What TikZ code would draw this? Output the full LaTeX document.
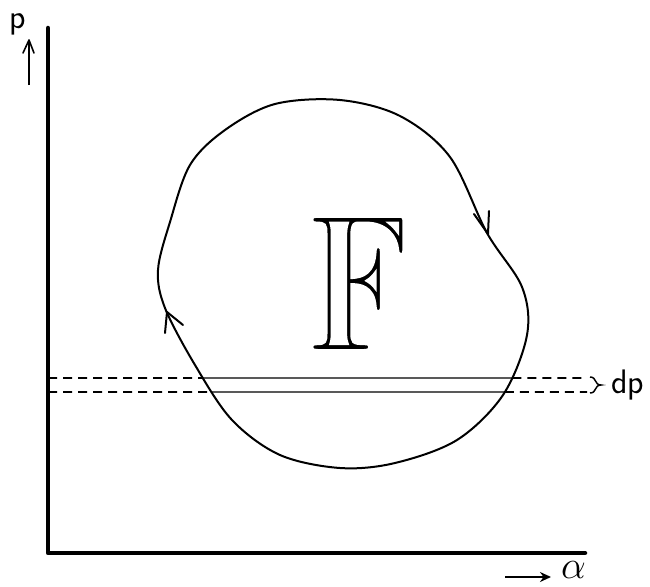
\documentclass[tikz,border=0pt]{standalone}
\usepackage{fontspec}
\usepackage{amssymb}
\usetikzlibrary{arrows.meta,intersections}
\begin{document}
\begin{tikzpicture}[x=1pt,y=-1pt,
  axis/.style={line width=4.5pt,line cap=round,line join=round},
  loopline/.style={line width=2pt,line join=round},
  wing/.style={line width=2pt,line cap=round,line join=round},
  band/.style={line width=1.4pt},
  bandd/.style={line width=1.8pt,dash pattern=on 9pt off 6pt},
  lbl/.style={inner sep=0pt,font=\sffamily\fontsize{34}{34}\selectfont}]
\useasboundingbox (0,0) rectangle (650,586);
% axes
\coordinate (ytop) at (48,28);
\coordinate (o) at (48,553);
\coordinate (xend) at (585,553);
\draw[axis] (ytop) -- (o) -- (xend);
% closed curve
\draw[loopline, name path=loop]
  plot[smooth cycle, tension=0.55] coordinates {
  (340,100) (400,116) (450,157) (487,233) (522,287) (527,335)
  (503,395) (457,440) (395,463) (340,468) (280,455) (232,420)
  (195,365) (165,308) (158,270) (170,222) (190,165) (225,130)
  (275,104)};
% direction arrowheads on the curve
\coordinate (rtip) at (488,234);
\coordinate (rw1) at (474,214);
\coordinate (rw2) at (489,211);
\coordinate (ltip) at (167,312);
\coordinate (lw1) at (165,333);
\coordinate (lw2) at (183,325);
\draw[wing] (rw1) -- (rtip) -- (rw2);
\draw[wing] (lw1) -- (ltip) -- (lw2);
% strip dp
\coordinate (ua) at (48,378);
\coordinate (ub) at (587,378);
\coordinate (la) at (48,392);
\coordinate (lb) at (587,392);
\path[name path=upper] (ua) -- (ub);
\path[name path=lower] (la) -- (lb);
\path[name intersections={of=upper and loop, sort by=upper, by={u1,u2}}];
\path[name intersections={of=lower and loop, sort by=lower, by={l1,l2}}];
\draw[bandd] (ua) -- (u1);
\draw[band] (u1) -- (u2);
\draw[bandd] (u2) -- (ub);
\draw[bandd] (la) -- (l1);
\draw[band] (l1) -- (l2);
\draw[bandd] (l2) -- (lb);
% brace
\coordinate (bt) at (590,377);
\coordinate (bm) at (601,385);
\coordinate (bb) at (590,393);
\draw[line width=1.5pt] (bt) .. controls (597,377) and (594,385) .. (bm)
  .. controls (594,385) and (597,393) .. (bb);
\node[lbl, anchor=base west] (dp) at (611,393) {dp};
% F
\node[inner sep=0pt] (F) at (359,283) {\scalebox{0.82}[1]{\special{pdf:literal direct 1 1 1 RG 3 w 2 Tr}\fontsize{196}{196}\selectfont$\mathbb{F}$\special{pdf:literal direct 0 Tr 0 0 0 RG 1 w}}};
% p label and arrow
\node[lbl, anchor=base west] (plbl) at (9,29) {p};
\coordinate (pa1) at (29,85);
\coordinate (pa2) at (29,40);
\coordinate (pw1) at (23,53);
\coordinate (pw2) at (34,53);
\draw[line width=1.6pt] (pa1) -- (pa2);
\draw[line width=1.6pt, line cap=round, line join=round] (pw1) -- (pa2) -- (pw2);
% alpha label and arrow
\coordinate (xa1) at (505,577);
\coordinate (xa2) at (551,577);
\draw[line width=1.8pt, -{Stealth[length=11pt,width=10pt]}] (xa1) -- (xa2);
\node[inner sep=0pt, anchor=base west] (alpha) at (561,578) {\scalebox{1.9}{\fontsize{22}{22}\selectfont$\alpha$}};
\end{tikzpicture}
\end{document}
